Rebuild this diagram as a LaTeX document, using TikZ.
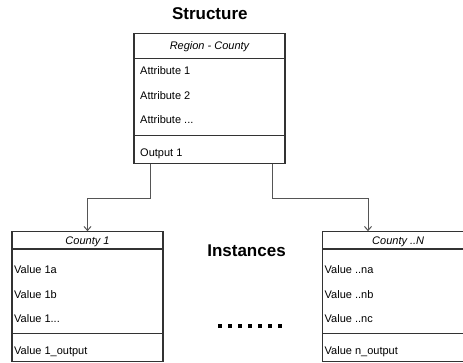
\documentclass[tikz,border=0pt]{standalone}
\usepackage{fontspec}
\setmainfont{Liberation Sans}
\usetikzlibrary{arrows.meta}
\definecolor{BX}{HTML}{333333}
\definecolor{LN}{HTML}{555555}

\begin{document}
\begin{tikzpicture}[x=1pt, y=-1pt,
    every node/.style={inner sep=0, font=\fontsize{11}{13}\selectfont},
    box/.style={draw=BX, line width=1.1pt, minimum width=151pt},
    hdr/.style={box, font=\fontsize{11}{13}\selectfont\itshape, text height=7.9pt, text depth=0pt},
    row/.style={anchor=base west},
    title/.style={anchor=base, font=\fontsize{17}{20}\selectfont\bfseries},
    conn/.style={draw=LN, line width=1pt, -{Straight Barb[length=4pt,width=7pt]}}]
    \useasboundingbox (0,0) rectangle (463,363);
    \clip (0,0) rectangle (463,363);
    \node[title] (st) at (209.8,20) {Structure};
    \node[title] (in) at (246.5,256.7) {Instances};
    % structure box
    \node[hdr, minimum height=25pt] (rh) at (209.5,45.8) {Region - County};
    \node[box, minimum height=77pt] (rb) at (209.5,96.8) {};
    \node[box, minimum height=28pt] (ro) at (209.5,149.3) {};
    \node[row] (ra1) at (140,75) {Attribute 1};
    \node[row] (ra2) at (140,99.6) {Attribute 2};
    \node[row] (ra3) at (140,124) {Attribute ...};
    \node[row] (rout) at (140,156.2) {Output 1};
    % instance boxes
    \node[hdr, minimum height=17.3pt] (c1) at (87.5,240.4) {County 1};
    \node[box, minimum height=84.7pt] (c1b) at (87.5,291.35) {};
    \node[box, minimum height=28pt] (c1o) at (87.5,347.7) {};
    \node[row] (v1a) at (14,274) {Value 1a};
    \node[row] (v1b) at (14,298.2) {Value 1b};
    \node[row] (v1c) at (14,322.2) {Value 1...};
    \node[row] (v1o) at (14,354) {Value 1\_output};
    \node[hdr, minimum height=17.3pt] (cN) at (398.2,240.4) {County ..N};
    \node[box, minimum height=84.7pt] (cNb) at (398.2,291.35) {};
    \node[box, minimum height=28pt] (cNo) at (398.2,347.7) {};
    \node[row] (vna) at (324.5,274) {Value ..na};
    \node[row] (vnb) at (324.5,298.2) {Value ..nb};
    \node[row] (vnc) at (324.5,322.2) {Value ..nc};
    \node[row] (vno) at (324.5,354) {Value n\_output};
    % connectors
    \draw[conn] ([xshift=-59.5pt]ro.south) -- ++(0,35) -| (c1.north);
    \draw[conn] ([xshift=62.5pt]ro.south) -- ++(0,35) -| ([xshift=-30.2pt]cN.north);
    \foreach \i in {0,...,6}
        \fill (218.2+10*\i,323.9) rectangle ++(3.6,3.6);
\end{tikzpicture}
\end{document}
